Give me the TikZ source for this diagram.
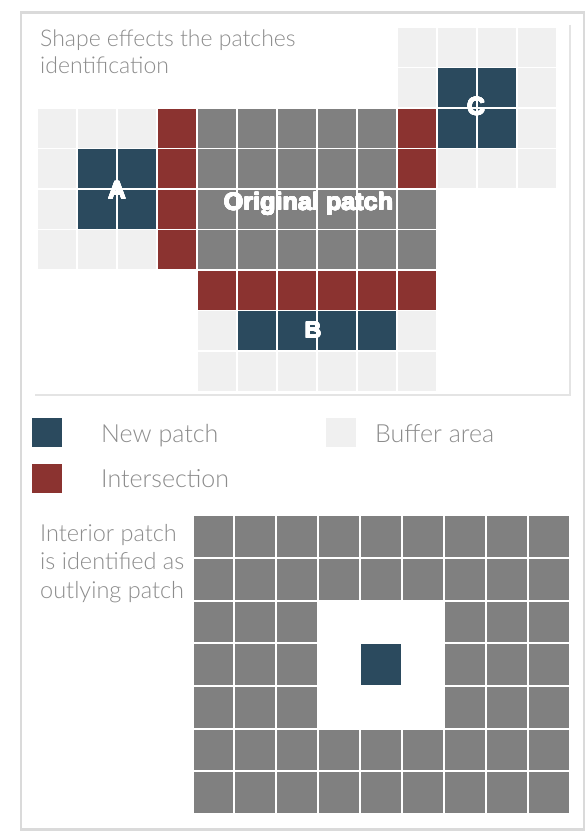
\documentclass[tikz,border=0pt]{standalone}
\usepackage{fontspec}
\usepackage{contour}
\contourlength{0.45pt}
\IfFontExistsTF{Lato Light}{\newfontfamily\lightsans{Lato Light}}{\newfontfamily\lightsans{Lato}}
\newfontfamily\labelsans{Liberation Sans Bold}

\definecolor{patchblue}{HTML}{2B4A5E}
\definecolor{patchred}{HTML}{8B3330}
\definecolor{patchgray}{HTML}{808080}
\definecolor{bufferfill}{HTML}{F0F0F0}
\definecolor{captiongray}{HTML}{8C8C8C}
\definecolor{framegray}{HTML}{DADADA}
\definecolor{rulegray}{HTML}{E4E4E4}

\tikzset{
  newpatch/.style={fill=patchblue},
  overlapcell/.style={fill=patchred},
  origcell/.style={fill=patchgray},
  buffercell/.style={fill=bufferfill},
  caption/.style={text=captiongray, inner sep=0pt, anchor=base west, align=left},
  cellname/.style={text=white, inner sep=0pt, anchor=base,
    font=\labelsans\fontsize{25}{25}\selectfont},
}

% heavy white lettering for the patch names
\newcommand\heavy[1]{\contour{white}{#1}}

% cell of the upper grid: column, row, style
\newcommand\topcell[3]{\path[#3] ({37+40*#1+0.8},{27+40.5*#2+0.8}) rectangle ({37+40*#1+39.2},{27+40.5*#2+39.7});}
% cell of the lower grid: column, row, style
\newcommand\lowcell[3]{\path[#3] ({192.5+41.89*#1+1},{558+42.67*(#2-1)+1}) rectangle ({192.5+41.89*#1+40.9},{558+42.67*#2-1});}

\begin{document}
\begin{tikzpicture}[x=1pt,y=-1pt]
\useasboundingbox (0,0) rectangle (588,832);
\fill[white] (0,0) rectangle (588,832);

% outer frame and the rules closing the upper panel
\draw[framegray, line width=2.5pt] (21,12.5) rectangle (584,829.5);
\draw[rulegray, line width=1.2pt] (570,25) -- (570,395) -- (35,395);

% ---- upper grid ----
\foreach \c in {9,...,12} \topcell{\c}{0}{buffercell};
\foreach \c in {9,12} \topcell{\c}{1}{buffercell};
\foreach \c in {10,11} \topcell{\c}{1}{newpatch};
% row 2
\foreach \c in {0,1,2,12} \topcell{\c}{2}{buffercell};
\foreach \c in {3,9} \topcell{\c}{2}{overlapcell};
\foreach \c in {4,...,8} \topcell{\c}{2}{origcell};
\foreach \c in {10,11} \topcell{\c}{2}{newpatch};
% row 3
\foreach \c in {0,10,11,12} \topcell{\c}{3}{buffercell};
\foreach \c in {1,2} \topcell{\c}{3}{newpatch};
\foreach \c in {3,9} \topcell{\c}{3}{overlapcell};
\foreach \c in {4,...,8} \topcell{\c}{3}{origcell};
% row 4
\topcell{0}{4}{buffercell}
\foreach \c in {1,2} \topcell{\c}{4}{newpatch};
\topcell{3}{4}{overlapcell}
\foreach \c in {4,...,9} \topcell{\c}{4}{origcell};
% row 5
\foreach \c in {0,1,2} \topcell{\c}{5}{buffercell};
\topcell{3}{5}{overlapcell}
\foreach \c in {4,...,9} \topcell{\c}{5}{origcell};
% row 6
\foreach \c in {4,...,9} \topcell{\c}{6}{overlapcell};
% row 7
\foreach \c in {4,9} \topcell{\c}{7}{buffercell};
\foreach \c in {5,...,8} \topcell{\c}{7}{newpatch};
% row 8
\foreach \c in {4,...,9} \topcell{\c}{8}{buffercell};

\node[cellname] (nameA) at (117,199) {\heavy{A}};
\node[cellname, font=\labelsans\fontsize{23}{23}\selectfont] (nameB) at (313,338) {\heavy{B}};
\node[cellname] (nameC) at (476,115) {\heavy{C}};
\node[cellname, font=\labelsans\fontsize{24}{24}\selectfont] (nameorig) at (308.5,210)
  {\scalebox{1.05}[1]{\heavy{Original patch}}};

\node[caption, font=\lightsans\fontsize{23}{27}\selectfont] (title) at (40,74)
  {Shape effects the patches\\identification};

% ---- legend ----
\path[newpatch] (32,418) rectangle (62,447);
\path[overlapcell] (32,464) rectangle (62,493);
\path[buffercell] (326,418) rectangle (356,447);
\begin{scope}[every node/.append style={font=\lightsans\fontsize{25}{30}\selectfont}]
\node[caption] (legnew) at (101,442) {New patch};
\node[caption] (legint) at (101,487) {Intersection};
\node[caption] (legbuf) at (375,442) {Buffer area};
\end{scope}

% ---- lower grid ----
\foreach \c in {0,...,8} \lowcell{\c}{0}{origcell};
\foreach \r in {1,...,6}
  \foreach \c in {0,...,8} {
    \ifnum\r>1 \ifnum\r<5 \ifnum\c>2 \ifnum\c<6 \else \lowcell{\c}{\r}{origcell}\fi
      \else \lowcell{\c}{\r}{origcell}\fi
    \else \lowcell{\c}{\r}{origcell}\fi
    \else \lowcell{\c}{\r}{origcell}\fi
  };
\lowcell{4}{3}{newpatch}

\node[caption, font=\lightsans\fontsize{23.5}{28.5}\selectfont] (note) at (40,598)
  {Interior patch\\is identified as\\outlying patch};
\end{tikzpicture}
\end{document}
